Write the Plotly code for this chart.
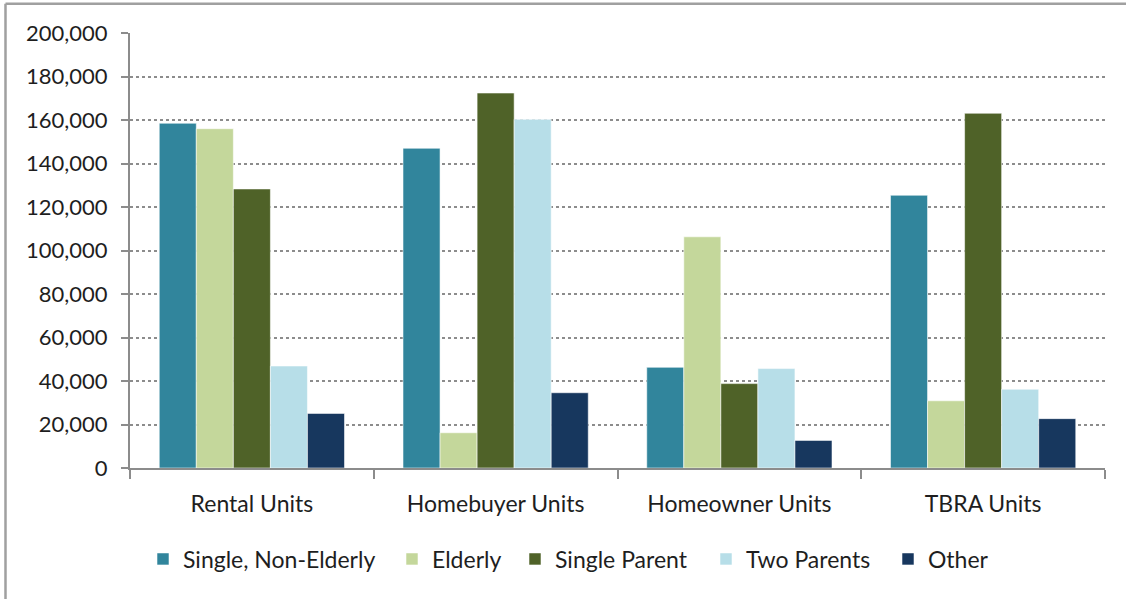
import plotly.graph_objects as go

categories = ["Rental Units", "Homebuyer Units", "Homeowner Units", "TBRA Units"]
series_names = ["Single, Non-Elderly", "Elderly", "Single Parent", "Two Parents", "Other"]
single_non_elderly = [158500, 147000, 46300, 125400]
elderly = [156000, 16200, 106300, 30900]
single_parent = [128300, 172400, 38800, 163100]
two_parents = [46900, 160300, 45700, 36200]
other = [25100, 34600, 12700, 22700]
y_ticks = [0, 20000, 40000, 60000, 80000, 100000, 120000, 140000, 160000, 180000, 200000]

values = [single_non_elderly, elderly, single_parent, two_parents, other]
colors = ["#31859C", "#C4D79B", "#4F6228", "#B7DEE8", "#17375E"]
# legend square centres in pixels (layout only)
legend_px = [163, 412, 535, 726, 908]

FONT = "Lato"
TXT = "#1E1E1E"
L, R, T, B, W, H = 130, 21, 33, 131, 1126, 599
PW, PH = W - L - R, H - T - B

fig = go.Figure()
legend_layouts = {}
for i, (name, vals, col) in enumerate(zip(series_names, values, colors)):
    lname = "legend" if i == 0 else f"legend{i+1}"
    fig.add_trace(go.Bar(
        name=name, x=categories, y=vals, legend=lname,
        marker=dict(color=col, line=dict(color="rgba(255,255,255,0.55)", width=1)),
    ))
    legend_layouts[lname] = dict(
        orientation="h", x=(legend_px[i] - 20 - L) / PW, xanchor="left",
        y=(468 - 559) / PH, yanchor="middle",
        font=dict(family=FONT, size=23, color=TXT),
        itemwidth=30, itemclick=False, bgcolor="rgba(0,0,0,0)",
    )

fig.update_layout(
    width=W, height=H,
    barmode="group", bargap=0.24, bargroupgap=0,
    plot_bgcolor="white", paper_bgcolor="white",
    margin=dict(l=L, r=R, t=T, b=B),
    font=dict(family=FONT, size=22, color=TXT),
    showlegend=True,
    **legend_layouts,
)
fig.update_yaxes(
    range=[0, 200000], tickvals=y_ticks, tickformat=",d",
    showgrid=True, gridcolor="#8C8C8C", griddash="dot", gridwidth=1.5,
    showline=True, linecolor="#8C8C8C", linewidth=2,
    ticks="outside", ticklen=7, tickcolor="#8C8C8C", tickwidth=2,
    tickfont=dict(family=FONT, size=22, color=TXT),
    zeroline=False, ticklabelstandoff=9,
)
fig.update_xaxes(
    showline=True, linecolor="#8C8C8C", linewidth=2,
    ticks="outside", tickson="boundaries", ticklen=9, tickcolor="#8C8C8C", tickwidth=2,
    tickfont=dict(family=FONT, size=23, color=TXT),
    showgrid=False, ticklabelstandoff=14,
)
# outer chart frame
fig.add_shape(type="line", xref="paper", yref="paper",
              x0=-0.1277, x1=-0.1277, y0=1.067, y1=-0.31,
              line=dict(color="#A0A0A0", width=2.5))
fig.add_shape(type="line", xref="paper", yref="paper",
              x0=-0.1277, x1=1.03, y0=1.067, y1=1.067,
              line=dict(color="#A0A0A0", width=2.5))

fig.write_html("out.html", config={"displayModeBar": False},
               post_script="document.body.style.margin='0';document.body.style.padding='0';")
